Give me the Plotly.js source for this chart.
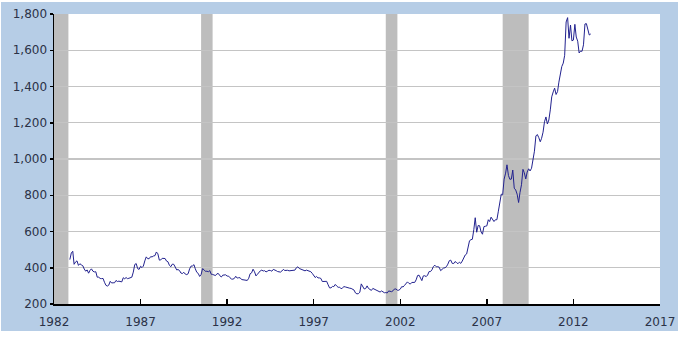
<!DOCTYPE html>
<html><head><meta charset="utf-8">
<script src="https://cdn.plot.ly/plotly-3.0.1.min.js"></script>
<style>html,body{margin:0;padding:0;background:#fff;}#chart{position:absolute;left:1px;top:2px;width:677px;height:329px;}</style>
</head><body><div id="chart"></div>
<script>
// Gold price, monthly (USD per troy ounce)
const startMonth = "1982-12";
const goldPrices = [
445,
481,491,419,432,438,413,422,416,411,393,381,388,
370,386,394,381,377,378,348,348,341,340,341,320,
303,299,304,325,316,317,317,330,324,326,325,322,
345,339,346,340,342,343,348,376,418,423,395,391,
408,401,409,438,460,450,450,461,460,465,467,487,
477,442,443,452,451,451,437,433,413,406,420,419,
404,388,390,385,371,368,375,365,362,367,394,409,
410,417,394,375,369,352,362,395,389,380,381,378,
384,364,363,358,357,367,368,356,349,359,360,361,
354,354,345,338,337,341,353,343,345,345,335,334,
329,330,330,342,367,372,392,378,355,364,374,383,
387,382,384,377,381,386,385,381,391,389,384,379,
379,376,382,391,385,387,386,383,383,383,386,387,
400,405,396,393,392,385,383,387,383,381,378,369,
355,346,352,344,344,341,324,324,323,325,306,289,
289,297,296,308,299,292,293,284,289,296,294,291,
287,287,286,282,277,261,256,257,265,311,293,283,
285,300,286,280,275,286,282,274,273,270,266,272,
266,262,263,261,272,270,268,273,283,283,276,276,
282,296,294,303,314,322,314,310,319,317,319,333,
357,359,341,329,355,356,351,360,379,379,389,407,
414,405,406,403,384,392,398,400,406,420,439,442,
424,423,434,429,422,431,424,437,456,470,476,510,
549,555,557,610,676,596,633,632,598,585,627,629,
631,665,655,679,667,655,665,665,712,754,806,803,
889,922,968,909,888,889,939,839,829,806,760,816,
858,943,924,890,928,946,934,949,996,1043,1127,1135,
1118,1095,1114,1148,1205,1232,1193,1215,1271,1343,1370,1391,
1356,1372,1424,1474,1510,1529,1572,1756,1780,1666,1739,1652,
1656,1743,1673,1650,1585,1596,1594,1630,1745,1747,1721,1684,
1690
];
// Recession periods (start, end)
const recessionStarts = ["1981-07-01","1990-07-01","2001-03-01","2007-12-01"];
const recessionEnds   = ["1982-11-01","1991-03-01","2001-11-01","2009-06-01"];
const xTickYears = ["1982","1987","1992","1997","2002","2007","2012","2017"];
const yTickValues = [200,400,600,800,1000,1200,1400,1600,1800];

// build month dates
const dates = [];
let [y0, m0] = startMonth.split("-").map(Number);
for (let i = 0; i < goldPrices.length; i++) {
  const total = (m0 - 1) + i;
  const yy = y0 + Math.floor(total / 12);
  const mm = (total % 12) + 1;
  dates.push(yy + "-" + String(mm).padStart(2, "0") + "-01");
}

const shapes = recessionStarts.map((s, i) => ({
  type: "rect", xref: "x", yref: "paper", x0: s, x1: recessionEnds[i], y0: 0, y1: 1,
  fillcolor: "#bdbdbd", line: {width: 0}, layer: "between"
}));

const fontTick = {family: "DejaVu Sans, Verdana, sans-serif", size: 12, color: "#2b3247"};

Plotly.newPlot("chart", [{
  x: dates, y: goldPrices, type: "scatter", mode: "lines",
  line: {color: "#22228f", width: 1}, hoverinfo: "skip"
}], {
  width: 677, height: 329,
  margin: {l: 53, r: 18, t: 12, b: 27, pad: 0},
  paper_bgcolor: "#b6cde6", plot_bgcolor: "#ffffff",
  showlegend: false,
  shapes: shapes,
  xaxis: {
    type: "date", range: ["1982-01-01", "2017-01-01"],
    tickvals: xTickYears.map(y => y + "-01-01"), ticktext: xTickYears,
    ticks: "inside", ticklen: 5, tickcolor: "#000", tickwidth: 1.5,
    ticklabelstandoff: 6,
    showline: true, linecolor: "#000", linewidth: 1.5,
    showgrid: false, zeroline: false, tickfont: fontTick, fixedrange: true
  },
  yaxis: {
    range: [200, 1800], tickvals: yTickValues, tickformat: ",d",
    ticks: "outside", ticklen: 3, tickcolor: "#000", tickwidth: 1.5,
    showline: true, linecolor: "#000", linewidth: 1.5,
    showgrid: true, gridcolor: "#c4c4c4", gridwidth: 1.2,
    zeroline: false, tickfont: fontTick, fixedrange: true
  }
}, {displayModeBar: false, staticPlot: true});
</script></body></html>
